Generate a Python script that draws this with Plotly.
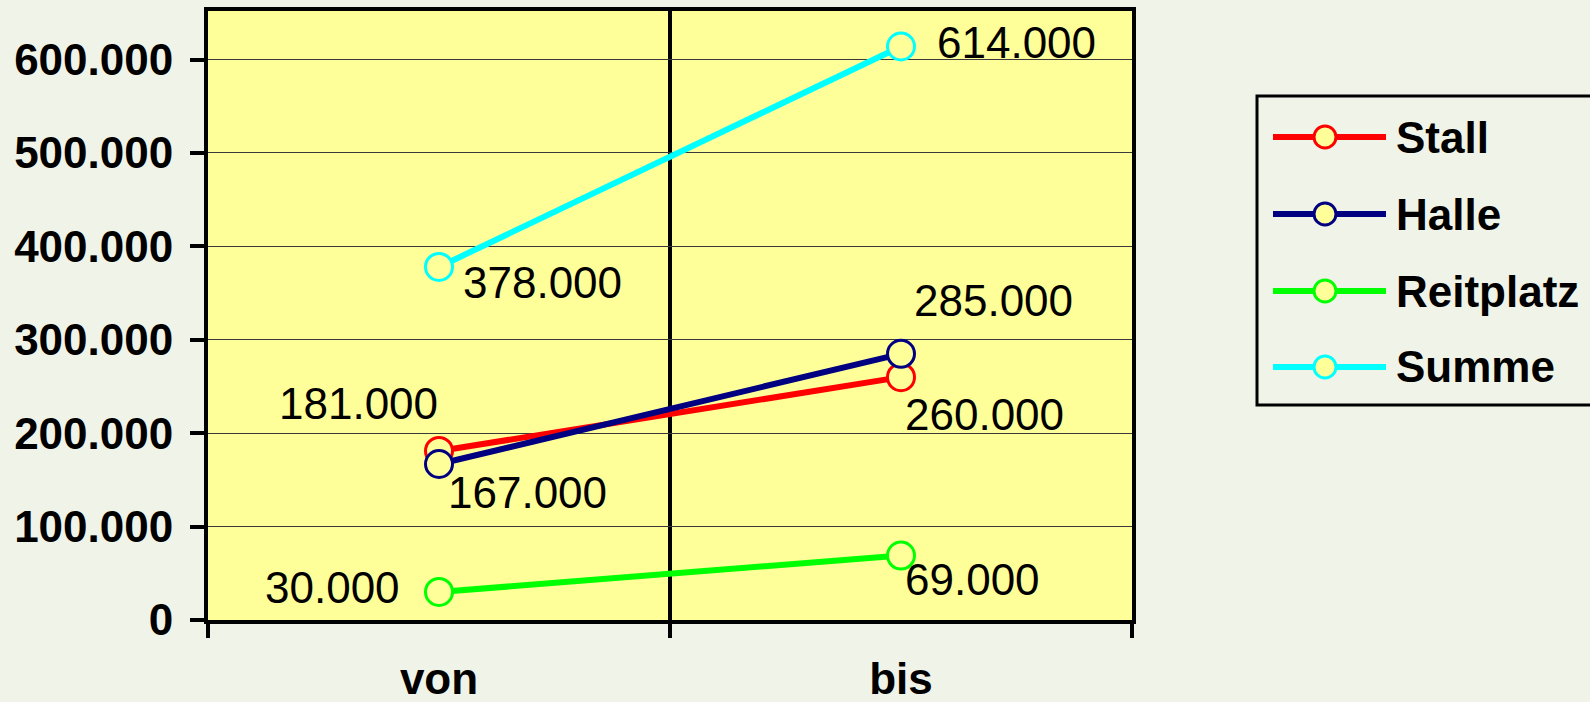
import plotly.graph_objects as go

categories = ["von", "bis"]
series_names = ["Stall", "Halle", "Reitplatz", "Summe"]
stall = [181000, 260000]
halle = [167000, 285000]
reitplatz = [30000, 69000]
summe = [378000, 614000]
series_values = [stall, halle, reitplatz, summe]

colors = ["#FF0000", "#000080", "#00FF00", "#00FFFF"]
# pixel offsets of the value labels (dx right, dy up) per series / category
label_shift = [
    [(-81, 47), (83, -37)],
    [(88, -28), (92, 53)],
    [(-107, 4), (71, -24)],
    [(103, -16), (115, 4)],
]

FONT = "Arial, Liberation Sans, sans-serif"
BG_PLOT = "#FFFF99"
BG_PAGE = "#F0F3E7"
FS = 44

# plot area in pixels
L, R, T, B = 208, 1132, 11, 620
W, H = 1590, 702


def fmt(v):
    return f"{v:,}".replace(",", ".")


fig = go.Figure()

for name, vals, col in zip(series_names, series_values, colors):
    fig.add_trace(go.Scatter(
        x=categories, y=vals, name=name, mode="lines+markers",
        line=dict(color=col, width=6),
        marker=dict(symbol="circle", size=27, color=BG_PLOT,
                    line=dict(color=col, width=3)),
        showlegend=False,
    ))

for vals, shifts in zip(series_values, label_shift):
    for cat, v, (dx, dy) in zip(categories, vals, shifts):
        fig.add_annotation(
            x=cat, y=v, xref="x", yref="y", text=fmt(v), showarrow=False,
            xshift=dx, yshift=dy,
            font=dict(family=FONT, size=FS, color="black"),
        )


# hand-made legend (long line samples like the original)
def px(x):
    return (x - L) / (R - L)


def py(y):
    return (B - y) / (B - T)


fig.add_shape(type="rect", xref="paper", yref="paper",
              x0=px(1257), x1=px(1620), y0=py(405), y1=py(96),
              line=dict(color="black", width=3), fillcolor=BG_PAGE, layer="below")

row_y = [137, 214, 291, 367]
for name, col, ry in zip(series_names, colors, row_y):
    fig.add_shape(type="line", xref="paper", yref="paper",
                  x0=px(1273), x1=px(1386), y0=py(ry), y1=py(ry),
                  line=dict(color=col, width=6))
    fig.add_shape(type="circle", xref="paper", yref="paper",
                  xsizemode="pixel", ysizemode="pixel",
                  xanchor=px(1325), yanchor=py(ry),
                  x0=-11, x1=11, y0=-11, y1=11,
                  line=dict(color=col, width=3), fillcolor=BG_PLOT)
    fig.add_annotation(
        xref="paper", yref="paper", x=px(1394), y=py(ry), text=name,
        showarrow=False, xanchor="left", yanchor="middle",
        font=dict(family=FONT, size=FS, color="black", weight="bold"),
    )

fig.update_layout(
    width=W, height=H,
    margin=dict(l=L, r=W - R, t=T, b=H - B, pad=0),
    paper_bgcolor=BG_PAGE,
    plot_bgcolor=BG_PLOT,
    separators=",.",
    showlegend=False,
    xaxis=dict(
        type="category", range=[-0.5, 1.5], tickson="boundaries",
        ticks="outside", ticklen=14, tickwidth=4, tickcolor="black",
        ticklabelstandoff=17, automargin=False,
        showgrid=True, gridcolor="black", gridwidth=4,
        showline=True, linecolor="black", linewidth=4, mirror=True,
        tickfont=dict(family=FONT, size=FS, color="black", weight="bold"),
        fixedrange=True,
    ),
    yaxis=dict(
        range=[0, 652000], dtick=100000, tick0=0, tickformat=",d",
        ticks="outside", ticklen=14, tickwidth=4, tickcolor="black",
        ticklabelstandoff=8, automargin=False,
        showgrid=True, gridcolor="#3a3a3a", gridwidth=1, zeroline=False,
        showline=True, linecolor="black", linewidth=4, mirror=True,
        tickfont=dict(family=FONT, size=FS, color="black", weight="bold"),
        fixedrange=True,
    ),
)

fig.write_html(
    "out.html",
    config={"displayModeBar": False},
    post_script="document.body.style.margin='0';"
                "document.body.style.background='" + BG_PAGE + "';",
)
